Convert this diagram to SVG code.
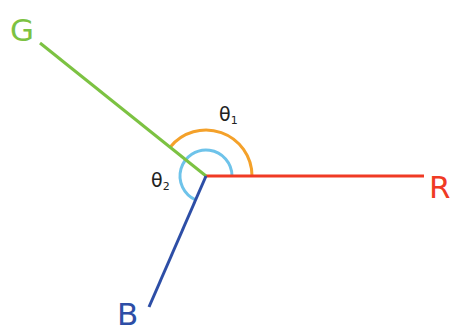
<svg xmlns="http://www.w3.org/2000/svg" width="452" height="332" viewBox="0 0 452 332">
<style>
.ln{fill:none;stroke-width:3;stroke-linecap:butt}
.lbl{font-family:"DejaVu Sans","Liberation Sans",sans-serif;font-size:31px}
.th{font-family:"DejaVu Sans","Liberation Sans",sans-serif;font-size:19px;fill:#222}
</style>
<rect width="452" height="332" fill="#fff"/>
<g id="angles">
<path class="ln" d="M252 176 A46 46 0 0 0 170.1 147.2" stroke="#f4a12a"/>
<path class="ln" d="M232 176 A26 26 0 1 0 195.6 199.8" stroke="#6ec3ea"/>
</g>
<g id="connectors">
<line class="ln" x1="206" y1="176" x2="424" y2="176" stroke="#f03a24"/>
<line class="ln" x1="206" y1="176" x2="40" y2="43" stroke="#7cc242"/>
<line class="ln" x1="206" y1="176" x2="149" y2="307" stroke="#2d4ea6"/>
</g>
<g id="G"><text class="lbl" x="10" y="41" fill="#7cc242">G</text></g>
<g id="R"><text class="lbl" x="429" y="198" fill="#f03a24">R</text></g>
<g id="B"><text class="lbl" x="117" y="325" fill="#2d4ea6">B</text></g>
<g id="theta1"><text class="th" x="219" y="121">θ<tspan font-size="11" dy="3">1</tspan></text></g>
<g id="theta2"><text class="th" x="151" y="187">θ<tspan font-size="11" dy="3">2</tspan></text></g>
</svg>
